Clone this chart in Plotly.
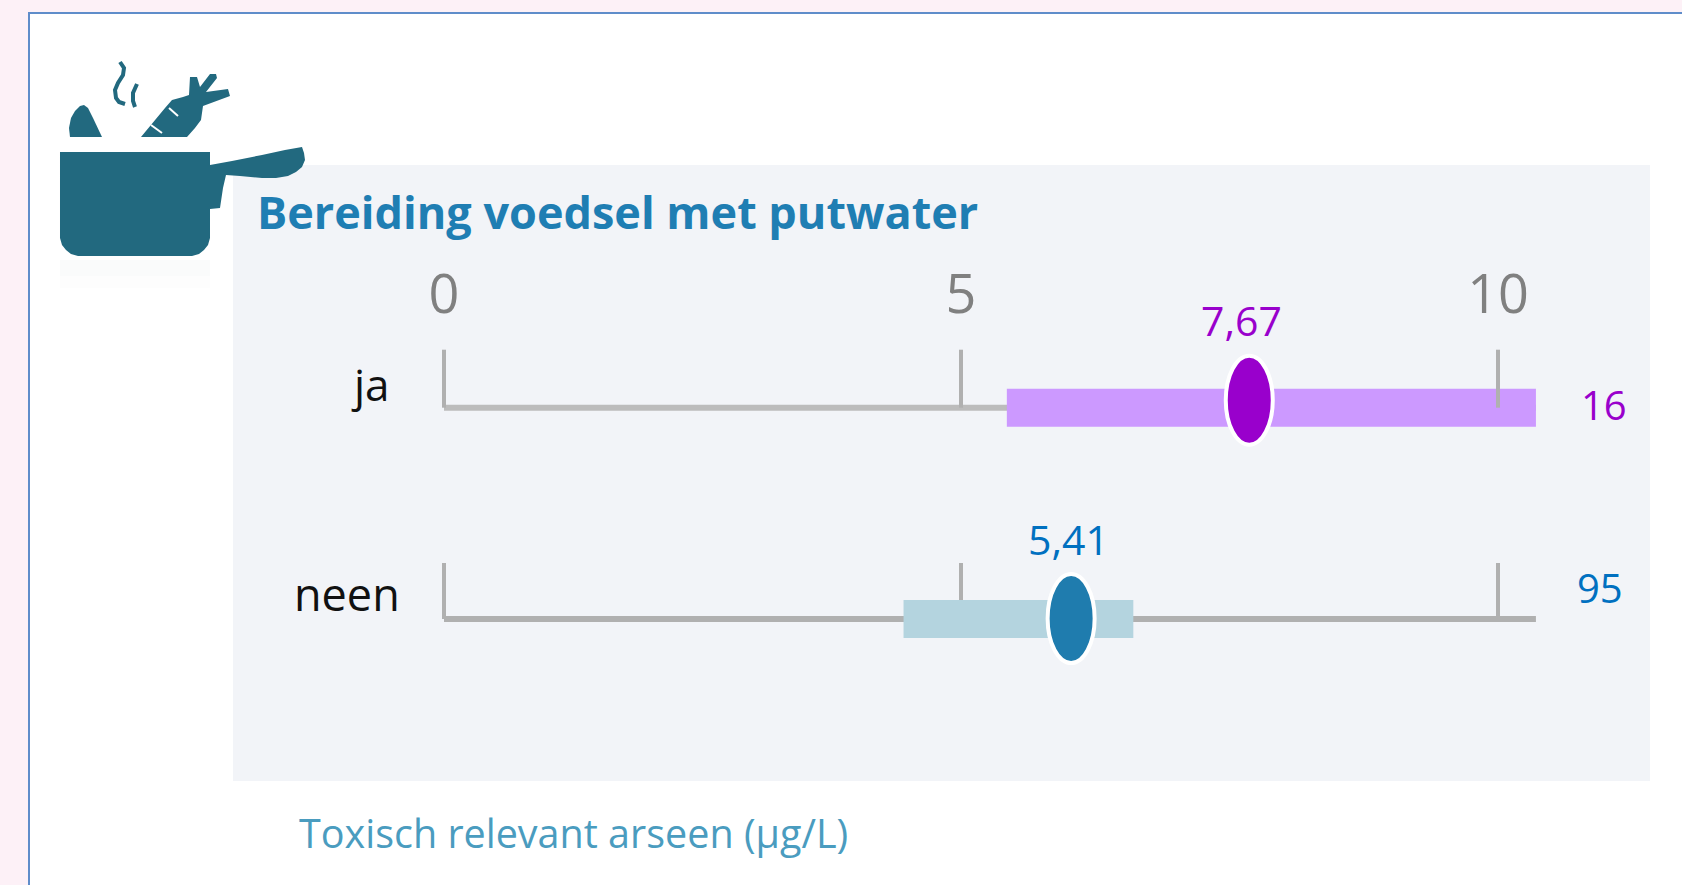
import plotly.graph_objects as go

# ---------- data ----------
title = "Bereiding voedsel met putwater"
axis_title = "Toxisch relevant arseen (µg/L)"
categories = ["ja", "neen"]
rows = [1, 0]
range_low = [5.34, 4.36]
range_high = [10.36, 6.54]
marker_pos = [7.64, 5.95]
mean_labels = ["7,67", "5,41"]
counts = ["16", "95"]
tick_positions = [0, 4.905, 10]
tick_labels = ["0", "5", "10"]
axis_end = 10.36

# ---------- styles ----------
W, H = 1682, 885
PX_PER_X = 105.4
X0_PX = 444
PX_PER_Y = 211.3
Y0_PX = 619
FONT = "Open Sans"
PURPLE = "#9900cc"
BLUE = "#0070c0"
POT = "#22697f"
bar_colors = ["#cc99ff", "#b4d4df"]
dot_colors = ["#9900cc", "#1f7cae"]
value_colors = [PURPLE, BLUE]
dot_up = [52, 45]
dot_down = [37, 44]


def px(x):
    return x / W


def py(y):
    return 1 - y / H


def path(points):
    return "M " + " L ".join(f"{px(a):.5f},{py(b):.5f}" for a, b in points) + " Z"


def stroke(points):
    return "M " + " L ".join(f"{px(a):.5f},{py(b):.5f}" for a, b in points)


def dy(p):
    return p / PX_PER_Y


def dx(p):
    return p / PX_PER_X


def paper_rect(x0, y0, x1, y1, fill, line=None, lw=0):
    return dict(type="rect", xref="paper", yref="paper", x0=px(x0), x1=px(x1), y0=py(y0), y1=py(y1),
                fillcolor=fill, line=dict(color=line or fill, width=lw), layer="below")


def paper_fill(points, color=POT):
    return dict(type="path", xref="paper", yref="paper", path=path(points), fillcolor=color,
                line=dict(width=0), layer="below")


def paper_stroke(points, color=POT, lw=3):
    return dict(type="path", xref="paper", yref="paper", path=stroke(points),
                line=dict(color=color, width=lw), layer="below")


shapes = [
    paper_rect(29, 13, W + 10, H + 10, "#ffffff", "#5f8dca", 2),
    paper_rect(233, 165, 1650, 781, "#f2f4f8"),
    paper_rect(60, 260, 210, 276, "#fafbfb"),
    paper_rect(60, 276, 210, 288, "#fdfdfd"),
    # pot body and handle
    paper_fill([(60, 152), (210, 152), (210, 165), (232, 161), (262, 155), (285, 150), (302, 147), (304, 153),
                (305, 160), (302, 167), (296, 172), (288, 176), (276, 178), (262, 178), (240, 176), (226, 175),
                (223, 188), (220, 208), (210, 209), (210, 238), (208, 245), (204, 250), (199, 254), (192, 256),
                (78, 256), (71, 254), (66, 250), (62, 245), (60, 238)]),
    # dome
    paper_fill([(70, 137), (69, 128), (71, 118), (75, 111), (80, 106), (84, 105), (88, 108), (93, 118), (102, 137)]),
    # carrot
    paper_fill([(141, 137), (165, 108), (172, 100), (183, 97), (189, 95), (190, 77), (197, 77), (200, 87), (210, 74),
                (216, 74), (217, 78), (206, 92), (228, 89), (230, 96), (203, 106), (201, 120), (195, 128), (187, 137)]),
    paper_stroke([(151, 125), (162, 133)], "#ffffff", 2),
    paper_stroke([(169, 108), (178, 116)], "#ffffff", 2),
    # steam
    paper_stroke([(120, 62), (124, 68), (123, 75), (118, 83), (115, 90), (116, 98), (119, 102), (125, 104)], lw=4),
    paper_stroke([(137, 84), (133, 93), (133, 101), (135, 107)], lw=4),
]

# row baselines, and the row ticks that the range bars cover
row_1_baseline = dict(type="line", xref="x", yref="y", x0=0, x1=axis_end, y0=rows[0], y1=rows[0],
                      line=dict(color="#bcbcbc", width=6), layer="below")
row_2_baseline = dict(type="line", xref="x", yref="y", x0=0, x1=axis_end, y0=rows[1], y1=rows[1],
                      line=dict(color="#b0b0b0", width=6), layer="below")
shapes += [row_1_baseline, row_2_baseline]
for t in tick_positions:
    shapes.append(dict(type="line", xref="x", yref="y", x0=t, x1=t, y0=rows[1], y1=rows[1] + dy(56),
                       line=dict(color="#b0b0b0", width=4), layer="below"))

fig = go.Figure()

fig.add_trace(go.Bar(
    y=rows, x=[h - l for l, h in zip(range_low, range_high)], base=range_low, orientation="h",
    width=dy(38), marker=dict(color=bar_colors, line=dict(width=0)), showlegend=False,
))

# ticks of the first row are drawn over its range bar
for t in tick_positions:
    fig.add_trace(go.Scatter(x=[t, t], y=[rows[0], rows[0] + dy(58)], mode="lines",
                             line=dict(color="#b0b0b0", width=4), showlegend=False))

# oval markers
for r, m, c, up, down in zip(rows, marker_pos, dot_colors, dot_up, dot_down):
    shapes.append(dict(type="circle", xref="x", yref="y", x0=m - dx(23.5), x1=m + dx(23.5),
                       y0=r - dy(down), y1=r + dy(up), fillcolor=c,
                       line=dict(color="#ffffff", width=4), layer="above"))

annotations = []


def text(x, y, s, size, color, bold=False, anchor="center"):
    annotations.append(dict(xref="x", yref="y", x=x, y=y, text=f"<b>{s}</b>" if bold else s, showarrow=False,
                            xanchor=anchor, yanchor="middle", font=dict(family=FONT, size=size, color=color)))


def dpx(p):
    return (p - X0_PX) / PX_PER_X


def dpy(p):
    return (Y0_PX - p) / PX_PER_Y


text(dpx(255), dpy(211), title, 45, "#1f7eb3", bold=True, anchor="left")
text(dpx(297), dpy(833), axis_title, 39.5, "#4a9cbf", anchor="left")
for r, cat, cx, cy, size in zip(rows, categories, [370, 347], [384, 593], [44, 45]):
    text(dpx(cx), dpy(cy), cat, size, "#111111")
for lab, col, cx, cy in zip(mean_labels, value_colors, [1241, 1068], [320, 539]):
    text(dpx(cx), dpy(cy), lab, 41, col)
for lab, col, cx, cy in zip(counts, value_colors, [1604, 1600], [404, 587]):
    text(dpx(cx), dpy(cy), lab, 40, col)

fig.update_layout(
    width=W, height=H, margin=dict(l=0, r=0, t=0, b=0), autosize=False,
    paper_bgcolor="#fdf1f7", plot_bgcolor="rgba(0,0,0,0)", showlegend=False,
    shapes=shapes, annotations=annotations,
    xaxis=dict(domain=[0, 1], range=[-X0_PX / PX_PER_X, (W - X0_PX) / PX_PER_X], side="top", anchor="free",
               position=py(324), tickmode="array", tickvals=tick_positions, ticktext=tick_labels, ticks="",
               showgrid=False, zeroline=False, showline=False,
               tickfont=dict(family=FONT, size=54, color="#808080")),
    yaxis=dict(domain=[0, 1], range=[(Y0_PX - H) / PX_PER_Y, Y0_PX / PX_PER_Y], visible=False),
)

fig.write_html("out.html", config=dict(displayModeBar=False),
               post_script="document.body.style.margin='0';document.body.style.overflow='hidden';")
